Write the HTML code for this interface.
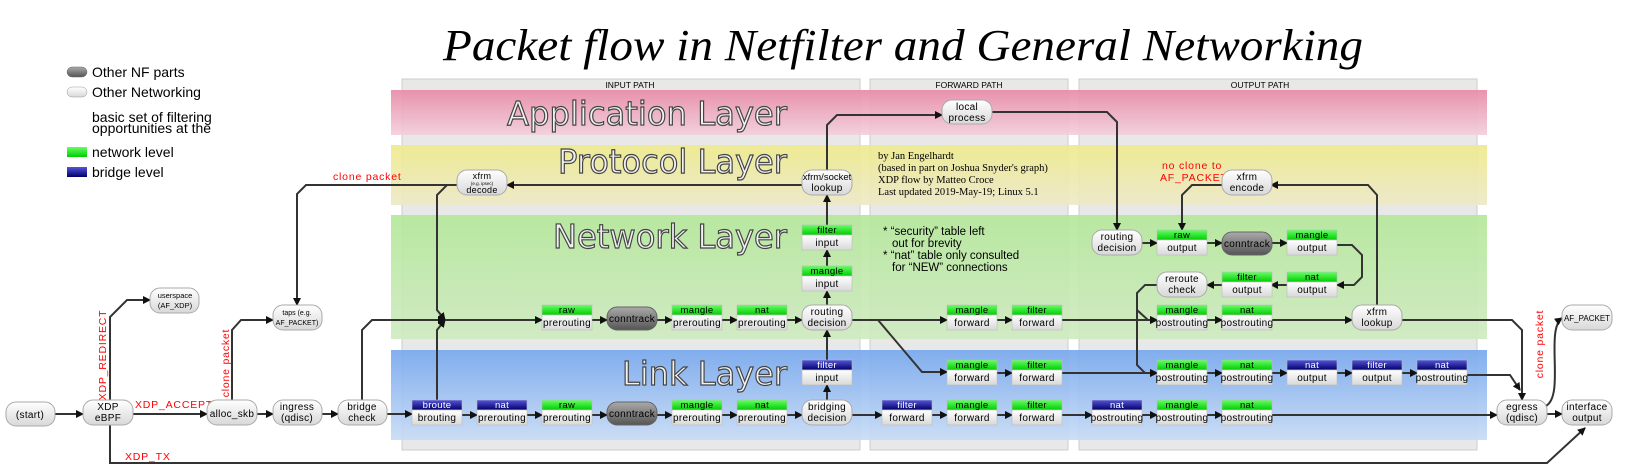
<!DOCTYPE html>
<html><head><meta charset="utf-8"><style>
html,body{margin:0;padding:0;background:#fff;width:1650px;height:475px;overflow:hidden}
text{font-family:"Liberation Sans","DejaVu Sans",sans-serif}
.n{font-size:10px;text-anchor:middle;fill:#000;letter-spacing:0.3px}
.h{font-size:9.5px;text-anchor:middle;letter-spacing:0.3px}
.L{font-family:"DejaVu Sans","Liberation Sans",sans-serif;font-size:33px;fill:#f2f2f2;stroke:#444;stroke-width:1.2px;text-anchor:end}
.r{fill:#f00;font-size:10.5px;letter-spacing:0.8px}
.c{fill:none;stroke:#333;stroke-width:2;marker-end:url(#a)}
</style></head><body>
<svg width="1650" height="475" viewBox="0 0 1650 475" xmlns="http://www.w3.org/2000/svg">
<defs>
<marker id="a" markerWidth="8" markerHeight="8" refX="7" refY="4" orient="auto" markerUnits="userSpaceOnUse"><path d="M0,0 L8,4 L0,8 z" fill="#111"/></marker>
<linearGradient id="wg" x1="0" y1="0" x2="0" y2="1"><stop offset="0" stop-color="#fff"/><stop offset="1" stop-color="#d8d8d8"/></linearGradient>
<linearGradient id="dg" x1="0" y1="0" x2="0" y2="1"><stop offset="0" stop-color="#aaa"/><stop offset="1" stop-color="#555"/></linearGradient>
<linearGradient id="gg" x1="0" y1="0" x2="0" y2="1"><stop offset="0" stop-color="#6f6"/><stop offset="1" stop-color="#0c0"/></linearGradient>
<linearGradient id="bg" x1="0" y1="0" x2="0" y2="1"><stop offset="0" stop-color="#55d"/><stop offset="1" stop-color="#006"/></linearGradient>
<linearGradient id="pk" x1="0" y1="0" x2="0" y2="1"><stop offset="0" stop-color="#e88aa8"/><stop offset="1" stop-color="#f3cfdb"/></linearGradient>
<linearGradient id="yl" x1="0" y1="0" x2="0" y2="1"><stop offset="0" stop-color="#eeea8c"/><stop offset="1" stop-color="#ede9c8"/></linearGradient>
<linearGradient id="gr" x1="0" y1="0" x2="0" y2="1"><stop offset="0" stop-color="#b4e89a"/><stop offset="1" stop-color="#cfeac0"/></linearGradient>
<linearGradient id="bl" x1="0" y1="0" x2="0" y2="1"><stop offset="0" stop-color="#77a8ee"/><stop offset="1" stop-color="#c8dcf6"/></linearGradient>
</defs>

<text x="903" y="60" font-style="italic" font-size="44" text-anchor="middle" textLength="920" lengthAdjust="spacingAndGlyphs" style="font-family:'Liberation Serif',serif">Packet flow in Netfilter and General Networking</text>

<!-- legend -->
<rect x="67" y="67" width="20" height="10" rx="5" fill="url(#dg)" stroke="#666" stroke-width="0.5"/>
<text x="92" y="77" font-size="14">Other NF parts</text>
<rect x="67" y="87" width="20" height="10" rx="5" fill="url(#wg)" stroke="#999" stroke-width="0.5"/>
<text x="92" y="97" font-size="14">Other Networking</text>
<text x="92" y="122" font-size="14">basic set of filtering</text>
<text x="92" y="133" font-size="14">opportunities at the</text>
<rect x="67" y="147" width="20" height="10" fill="url(#gg)"/>
<text x="92" y="157" font-size="14">network level</text>
<rect x="67" y="167" width="20" height="10" fill="url(#bg)"/>
<text x="92" y="177" font-size="14">bridge level</text>

<!-- columns -->
<rect x="402" y="79" width="458" height="371" fill="#e8e8e8" stroke="#ccc"/>
<rect x="870" y="79" width="198" height="371" fill="#e8e8e8" stroke="#ccc"/>
<rect x="1079" y="79" width="398" height="371" fill="#e8e8e8" stroke="#ccc"/>
<text x="630" y="88" font-size="8.5" text-anchor="middle">INPUT PATH</text>
<text x="969" y="88" font-size="8.5" text-anchor="middle">FORWARD PATH</text>
<text x="1260" y="88" font-size="8.5" text-anchor="middle">OUTPUT PATH</text>

<!-- bands -->
<rect x="391" y="90" width="1096" height="45" fill="url(#pk)" opacity="0.92"/>
<rect x="391" y="145" width="1096" height="60" fill="url(#yl)" opacity="0.92"/>
<rect x="391" y="215" width="1096" height="124" fill="url(#gr)" opacity="0.92"/>
<rect x="391" y="350" width="1096" height="90" fill="url(#bl)" opacity="0.92"/>
<text class="L" x="787" y="125" textLength="280" lengthAdjust="spacingAndGlyphs">Application Layer</text>
<text class="L" x="787" y="173" textLength="229" lengthAdjust="spacingAndGlyphs">Protocol Layer</text>
<text class="L" x="787" y="248" textLength="234" lengthAdjust="spacingAndGlyphs">Network Layer</text>
<text class="L" x="787" y="385" textLength="165" lengthAdjust="spacingAndGlyphs">Link Layer</text>

<!-- credits / notes -->
<g font-size="10.5" style="font-family:'Liberation Serif',serif">
<text x="878" y="159" style="font-family:'Liberation Serif',serif">by Jan Engelhardt</text>
<text x="878" y="171" style="font-family:'Liberation Serif',serif">(based in part on Joshua Snyder's graph)</text>
<text x="878" y="183" style="font-family:'Liberation Serif',serif">XDP flow by Matteo Croce</text>
<text x="878" y="195" style="font-family:'Liberation Serif',serif">Last updated 2019-May-19; Linux 5.1</text>
</g>
<g font-size="11.5">
<text x="883" y="235">* “security” table left</text>
<text x="892" y="247">out for brevity</text>
<text x="883" y="259">* “nat” table only consulted</text>
<text x="892" y="271">for “NEW” connections</text>
</g>

<!-- connectors -->
<path class="c" d="M55,414 H83"/>
<path class="c" d="M133,414 H207"/>
<path class="c" d="M110,400 V317 L127,300 H150"/>
<path class="c" d="M232,400 V330 L241,320 H273"/>
<path class="c" d="M256,414 H273"/>
<path class="c" d="M322,414 H338"/>
<path class="c" d="M387,414 H412"/>
<path class="c" d="M362,400 V330 L372,320 H445"/>
<path class="c" d="M437,400 V330 L445,320"/>
<path class="c" d="M457,185 H447 L437,195 V310 L445,320"/>
<path class="c" d="M447,185 H306 L297,194 V305"/>
<path class="c" d="M445,320 H542"/>
<path class="c" d="M592,320 H607"/><path class="c" d="M657,320 H672"/><path class="c" d="M722,320 H737"/><path class="c" d="M787,320 H802"/>
<path class="c" d="M462,415 H477"/><path class="c" d="M527,415 H542"/><path class="c" d="M592,415 H607"/><path class="c" d="M657,415 H672"/><path class="c" d="M722,415 H737"/><path class="c" d="M787,415 H802"/>
<path class="c" d="M827,400 V385"/><path class="c" d="M827,360 V330"/><path class="c" d="M827,305 V291"/><path class="c" d="M827,266 V250"/><path class="c" d="M827,225 V195"/>
<path class="c" d="M802,185 H507"/>
<path class="c" d="M827,170 V125 L837,115 H942"/>
<path class="c" d="M992,112 H1107 L1117,122 V230"/>
<path class="c" d="M1142,243 H1157"/><path class="c" d="M1207,243 H1222"/><path class="c" d="M1271,243 H1287"/>
<path class="c" d="M1337,245 H1352 L1362,255 V277 L1354,285 H1337"/>
<path class="c" d="M1287,285 H1271"/><path class="c" d="M1222,285 H1207"/>
<path class="c" d="M1157,285 H1145 L1137,293 V365 L1145,373 H1157"/>
<path class="c" d="M1137,310 L1148,320 H1157"/>
<path class="c" d="M852,320 H947"/>
<path class="c" d="M878,320 L922,372 H947"/>
<path class="c" d="M997,320 H1012"/><path class="c" d="M997,373 H1012"/>
<path class="c" d="M852,415 H882"/><path class="c" d="M932,415 H947"/><path class="c" d="M997,415 H1012"/>
<path class="c" d="M1062,320 H1157"/><path class="c" d="M1062,373 H1157"/><path class="c" d="M1062,415 H1092"/>
<path class="c" d="M1207,320 H1222"/><path class="c" d="M1272,320 H1352"/>
<path class="c" d="M1207,373 H1222"/><path class="c" d="M1272,373 H1287"/><path class="c" d="M1337,373 H1352"/><path class="c" d="M1402,373 H1417"/>
<path class="c" d="M1142,415 H1157"/><path class="c" d="M1207,415 H1222"/><path class="c" d="M1272,415 H1497"/>
<path class="c" d="M1402,320 H1512 L1522,330 V400"/>
<path class="c" d="M1467,375 H1510 L1520,390"/>
<path class="c" d="M1377,305 V195 L1368,185 H1271"/>
<path class="c" d="M1222,185 H1192 L1182,195 V230"/>
<path class="c" d="M1547,414 H1562"/>
<path class="c" d="M110,425 V463 H1547 L1585,428"/>
<path class="c" d="M1546,406 C1565,395 1545,330 1562,318"/>

<!-- red labels -->
<text class="r" x="135" y="408">XDP_ACCEPT</text>
<text class="r" transform="translate(106,355) rotate(-90)" text-anchor="middle">XDP_REDIRECT</text>
<text class="r" transform="translate(229,363) rotate(-90)" text-anchor="middle">clone packet</text>
<text class="r" x="333" y="180" font-size="9">clone packet</text>
<text class="r" transform="translate(1543,344) rotate(-90)" text-anchor="middle">clone packet</text>
<text class="r" x="125" y="460">XDP_TX</text>
<text class="r" x="1162" y="169" font-size="9.5" letter-spacing="0.5">no clone to</text>
<text class="r" x="1160" y="181" font-size="10" letter-spacing="0.3">AF_PACKET</text>

<!-- rounded nodes -->
<g stroke="#aaa" stroke-width="1" fill="url(#wg)">
<rect x="6" y="402" width="49" height="24" rx="10"/>
<rect x="83" y="400" width="50" height="25" rx="10"/>
<rect x="207" y="400" width="50" height="25" rx="10"/>
<rect x="273" y="400" width="49" height="25" rx="10"/>
<rect x="338" y="400" width="49" height="25" rx="10"/>
<rect x="150" y="288" width="49" height="25" rx="10"/>
<rect x="273" y="305" width="49" height="25" rx="10"/>
<rect x="457" y="170" width="50" height="25" rx="10"/>
<rect x="802" y="170" width="50" height="25" rx="10"/>
<rect x="942" y="100" width="50" height="24" rx="10"/>
<rect x="802" y="305" width="50" height="25" rx="10"/>
<rect x="802" y="400" width="50" height="25" rx="10"/>
<rect x="1092" y="230" width="50" height="25" rx="10"/>
<rect x="1222" y="170" width="50" height="25" rx="10"/>
<rect x="1157" y="272" width="50" height="25" rx="10"/>
<rect x="1352" y="305" width="50" height="25" rx="10"/>
<rect x="1497" y="400" width="50" height="25" rx="10"/>
<rect x="1562" y="400" width="50" height="25" rx="10"/>
<rect x="1562" y="305" width="50" height="25" rx="10"/>
</g>
<g stroke="#666" fill="url(#dg)">
<rect x="607" y="307" width="50" height="23" rx="10"/>
<rect x="607" y="402" width="50" height="23" rx="10"/>
<rect x="1222" y="232" width="50" height="23" rx="10"/>
</g>
<g>
<text class="n" x="30" y="418">(start)</text>
<text class="n" x="108" y="410">XDP</text><text class="n" x="108" y="421">eBPF</text>
<text class="n" x="232" y="417">alloc_skb</text>
<text class="n" x="297" y="410">ingress</text><text class="n" x="297" y="421">(qdisc)</text>
<text class="n" x="362" y="410">bridge</text><text class="n" x="362" y="421">check</text>
<text class="n" x="175" y="298" style="font-size:7.5px;letter-spacing:0">userspace</text><text class="n" x="175" y="308" style="font-size:7.5px;letter-spacing:0">(AF_XDP)</text>
<text class="n" x="297" y="315" style="font-size:7px;letter-spacing:0">taps (e.g.</text><text class="n" x="297" y="325" style="font-size:7px;letter-spacing:0">AF_PACKET)</text>
<text class="n" x="482" y="179" style="font-size:9px">xfrm</text><text class="n" x="482" y="185" style="font-size:4.5px;letter-spacing:0">(e.g. ipsec)</text><text class="n" x="482" y="193" style="font-size:9px">decode</text>
<text class="n" x="827" y="180" style="font-size:9.5px;letter-spacing:0">xfrm/socket</text><text class="n" x="827" y="191">lookup</text>
<text class="n" x="967" y="110">local</text><text class="n" x="967" y="121">process</text>
<text class="n" x="827" y="315">routing</text><text class="n" x="827" y="326">decision</text>
<text class="n" x="827" y="410">bridging</text><text class="n" x="827" y="421">decision</text>
<text class="n" x="1117" y="240">routing</text><text class="n" x="1117" y="251">decision</text>
<text class="n" x="1247" y="180">xfrm</text><text class="n" x="1247" y="191">encode</text>
<text class="n" x="1182" y="282">reroute</text><text class="n" x="1182" y="293">check</text>
<text class="n" x="1377" y="315">xfrm</text><text class="n" x="1377" y="326">lookup</text>
<text class="n" x="1522" y="410">egress</text><text class="n" x="1522" y="421">(qdisc)</text>
<text class="n" x="1587" y="410">interface</text><text class="n" x="1587" y="421">output</text>
<text class="n" x="1587" y="321" style="font-size:8px;letter-spacing:0">AF_PACKET</text>
<text class="n" x="632" y="322">conntrack</text>
<text class="n" x="632" y="417">conntrack</text>
<text class="n" x="1247" y="247">conntrack</text>
</g>

<!-- table nodes -->
<g stroke="#bbb" stroke-width="0.6">
<g fill="url(#gg)">
<rect x="542" y="305" width="50" height="10"/><rect x="672" y="305" width="50" height="10"/><rect x="737" y="305" width="50" height="10"/>
<rect x="542" y="400" width="50" height="10"/><rect x="672" y="400" width="50" height="10"/><rect x="737" y="400" width="50" height="10"/>
<rect x="802" y="266" width="50" height="10"/><rect x="802" y="225" width="50" height="10"/>
<rect x="947" y="305" width="50" height="10"/><rect x="1012" y="305" width="50" height="10"/>
<rect x="947" y="360" width="50" height="10"/><rect x="1012" y="360" width="50" height="10"/>
<rect x="947" y="400" width="50" height="10"/><rect x="1012" y="400" width="50" height="10"/>
<rect x="1157" y="230" width="50" height="10"/><rect x="1287" y="230" width="50" height="10"/>
<rect x="1287" y="272" width="50" height="10"/><rect x="1222" y="272" width="50" height="10"/>
<rect x="1157" y="305" width="50" height="10"/><rect x="1222" y="305" width="50" height="10"/>
<rect x="1157" y="360" width="50" height="10"/><rect x="1222" y="360" width="50" height="10"/>
<rect x="1157" y="400" width="50" height="10"/><rect x="1222" y="400" width="50" height="10"/>
</g>
<g fill="url(#bg)">
<rect x="412" y="400" width="50" height="10"/><rect x="477" y="400" width="50" height="10"/>
<rect x="802" y="360" width="50" height="10"/><rect x="882" y="400" width="50" height="10"/>
<rect x="1287" y="360" width="50" height="10"/><rect x="1352" y="360" width="50" height="10"/><rect x="1417" y="360" width="50" height="10"/>
<rect x="1092" y="400" width="50" height="10"/>
</g>
<g fill="url(#wg)">
<rect x="542" y="315" width="50" height="15"/><rect x="672" y="315" width="50" height="15"/><rect x="737" y="315" width="50" height="15"/>
<rect x="542" y="410" width="50" height="15"/><rect x="672" y="410" width="50" height="15"/><rect x="737" y="410" width="50" height="15"/>
<rect x="802" y="276" width="50" height="15"/><rect x="802" y="235" width="50" height="15"/>
<rect x="947" y="315" width="50" height="15"/><rect x="1012" y="315" width="50" height="15"/>
<rect x="947" y="370" width="50" height="15"/><rect x="1012" y="370" width="50" height="15"/>
<rect x="947" y="410" width="50" height="15"/><rect x="1012" y="410" width="50" height="15"/>
<rect x="1157" y="240" width="50" height="15"/><rect x="1287" y="240" width="50" height="15"/>
<rect x="1287" y="282" width="50" height="15"/><rect x="1222" y="282" width="50" height="15"/>
<rect x="1157" y="315" width="50" height="15"/><rect x="1222" y="315" width="50" height="15"/>
<rect x="1157" y="370" width="50" height="15"/><rect x="1222" y="370" width="50" height="15"/>
<rect x="1157" y="410" width="50" height="15"/><rect x="1222" y="410" width="50" height="15"/>
<rect x="412" y="410" width="50" height="15"/><rect x="477" y="410" width="50" height="15"/>
<rect x="802" y="370" width="50" height="15"/><rect x="882" y="410" width="50" height="15"/>
<rect x="1287" y="370" width="50" height="15"/><rect x="1352" y="370" width="50" height="15"/><rect x="1417" y="370" width="50" height="15"/>
<rect x="1092" y="410" width="50" height="15"/>
</g>
</g>
<g fill="#000">
<text class="h" x="567" y="313">raw</text><text class="h" x="697" y="313">mangle</text><text class="h" x="762" y="313">nat</text>
<text class="h" x="567" y="408">raw</text><text class="h" x="697" y="408">mangle</text><text class="h" x="762" y="408">nat</text>
<text class="h" x="827" y="274">mangle</text><text class="h" x="827" y="233">filter</text>
<text class="h" x="972" y="313">mangle</text><text class="h" x="1037" y="313">filter</text>
<text class="h" x="972" y="368">mangle</text><text class="h" x="1037" y="368">filter</text>
<text class="h" x="972" y="408">mangle</text><text class="h" x="1037" y="408">filter</text>
<text class="h" x="1182" y="238">raw</text><text class="h" x="1312" y="238">mangle</text>
<text class="h" x="1312" y="280">nat</text><text class="h" x="1247" y="280">filter</text>
<text class="h" x="1182" y="313">mangle</text><text class="h" x="1247" y="313">nat</text>
<text class="h" x="1182" y="368">mangle</text><text class="h" x="1247" y="368">nat</text>
<text class="h" x="1182" y="408">mangle</text><text class="h" x="1247" y="408">nat</text>
</g>
<g>
<text class="h" x="437" y="408" fill="#fff">broute</text><text class="h" x="502" y="408" fill="#fff">nat</text>
<text class="h" x="827" y="368" fill="#fff">filter</text><text class="h" x="907" y="408" fill="#fff">filter</text>
<text class="h" x="1312" y="368" fill="#fff">nat</text><text class="h" x="1377" y="368" fill="#fff">filter</text><text class="h" x="1442" y="368" fill="#fff">nat</text>
<text class="h" x="1117" y="408" fill="#fff">nat</text>
</g>
<g>
<text class="n" x="567" y="326">prerouting</text><text class="n" x="697" y="326">prerouting</text><text class="n" x="762" y="326">prerouting</text>
<text class="n" x="567" y="421">prerouting</text><text class="n" x="697" y="421">prerouting</text><text class="n" x="762" y="421">prerouting</text>
<text class="n" x="437" y="421">brouting</text><text class="n" x="502" y="421">prerouting</text>
<text class="n" x="827" y="287">input</text><text class="n" x="827" y="246">input</text><text class="n" x="827" y="381">input</text>
<text class="n" x="972" y="326">forward</text><text class="n" x="1037" y="326">forward</text>
<text class="n" x="972" y="381">forward</text><text class="n" x="1037" y="381">forward</text>
<text class="n" x="907" y="421">forward</text><text class="n" x="972" y="421">forward</text><text class="n" x="1037" y="421">forward</text>
<text class="n" x="1182" y="251">output</text><text class="n" x="1312" y="251">output</text>
<text class="n" x="1312" y="293">output</text><text class="n" x="1247" y="293">output</text>
<text class="n" x="1182" y="326">postrouting</text><text class="n" x="1247" y="326">postrouting</text>
<text class="n" x="1182" y="381">postrouting</text><text class="n" x="1247" y="381">postrouting</text>
<text class="n" x="1312" y="381">output</text><text class="n" x="1377" y="381">output</text><text class="n" x="1442" y="381">postrouting</text>
<text class="n" x="1117" y="421">postrouting</text><text class="n" x="1182" y="421">postrouting</text><text class="n" x="1247" y="421">postrouting</text>
</g>
</svg>
</body></html>
